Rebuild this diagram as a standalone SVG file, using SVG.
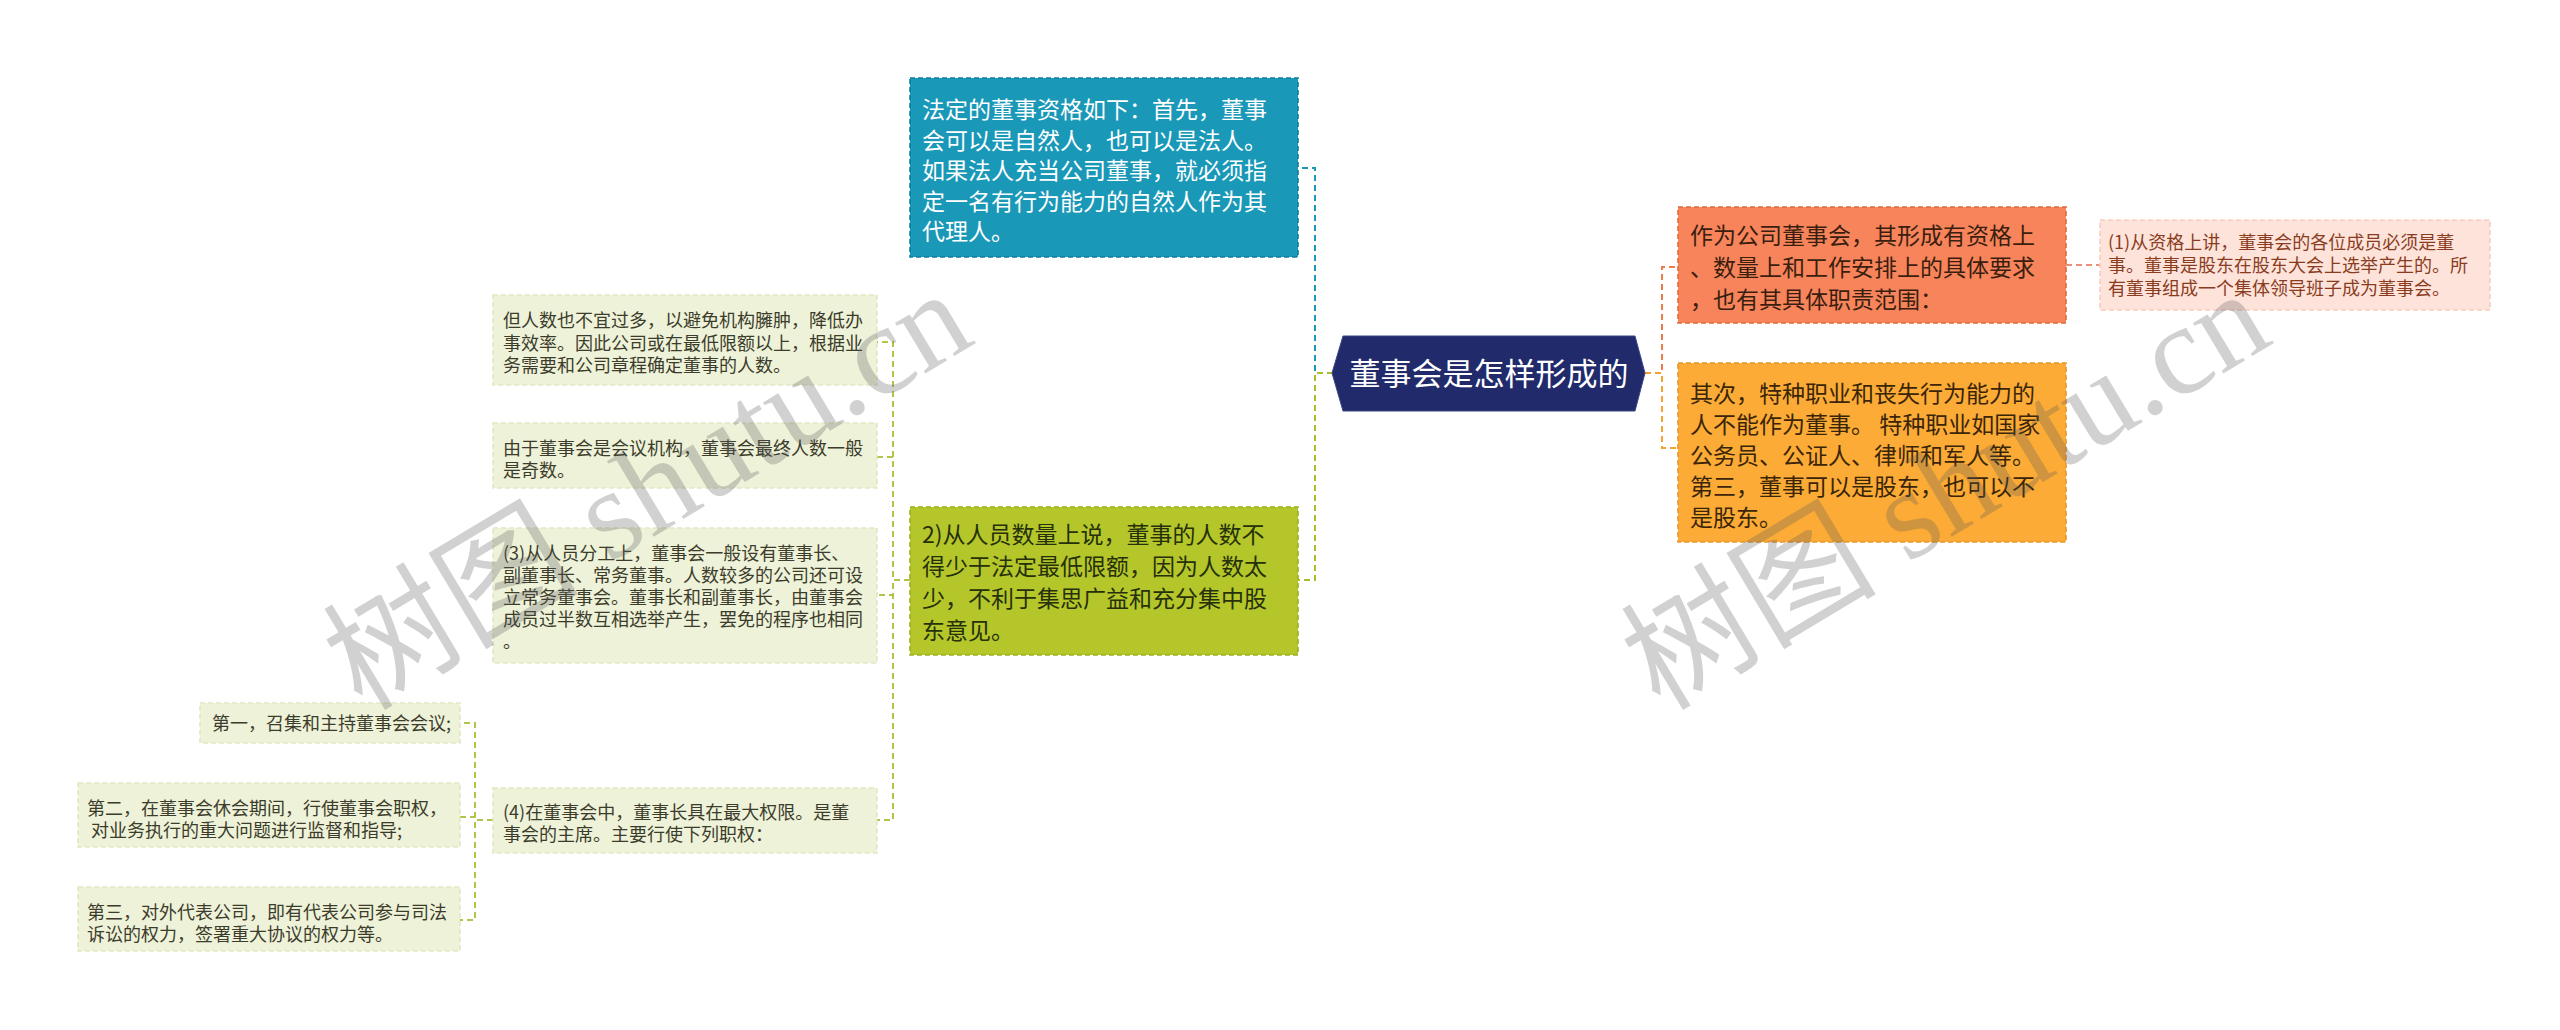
<svg xmlns="http://www.w3.org/2000/svg" width="2560" height="1030" viewBox="0 0 2560 1030">
<style>
text{font-family:"Noto Sans CJK SC","Noto Sans",sans-serif;}
.conn{fill:none;stroke-width:2;stroke-dasharray:6 4;}
.box{stroke-width:1.6;stroke-dasharray:5 3;}
.t23{font-size:23px;}
.t18{font-size:18px;}
.wm{font-family:"Liberation Serif","Noto Sans CJK SC",serif;font-size:128px;fill:#5a5a5a;fill-opacity:0.28;}
</style>
<rect width="2560" height="1030" fill="#ffffff"/>
<g id="connectors">
<path class="conn" stroke="#1a98b8" d="M1333,373 H1315 V168 H1298"/>
<path class="conn" stroke="#a8bf2a" d="M1333,373 H1315 V580 H1298"/>
<path class="conn" stroke="#f07a4c" d="M1645,373 H1662 V267 H1678"/>
<path class="conn" stroke="#f5a32e" d="M1645,373 H1662 V448 H1678"/>
<path class="conn" stroke="#e8907a" d="M2066,265 H2100"/>
<path class="conn" stroke="#b3c44a" d="M910,580 H893 V342 H877"/>
<path class="conn" stroke="#b3c44a" d="M910,580 H893 V457 H877"/>
<path class="conn" stroke="#b3c44a" d="M910,580 H893 V595 H877"/>
<path class="conn" stroke="#b3c44a" d="M910,580 H893 V820 H877"/>
<path class="conn" stroke="#b3c44a" d="M493,820 H475 V723 H460"/>
<path class="conn" stroke="#b3c44a" d="M493,820 H475 V817 H460"/>
<path class="conn" stroke="#b3c44a" d="M493,820 H475 V920 H460"/>
</g>
<g id="root">
<polygon points="1332,373 1343,336 1635,336 1645,373 1635,411 1343,411" fill="#212b6b" stroke="#3b4687" stroke-width="1"/>
<text x="1489" y="385" font-size="31" fill="#ffffff" text-anchor="middle">董事会是怎样形成的</text>
</g>
<g id="n-blue">
<rect class="box" x="910" y="78" width="388" height="179" fill="#1a98b8" stroke="#0f7f9c"/>
<text class="t23" fill="#ffffff"><tspan x="922" y="118">法定的董事资格如下：首先，董事</tspan><tspan x="922" y="148.5">会可以是自然人，也可以是法人。</tspan><tspan x="922" y="179">如果法人充当公司董事，就必须指</tspan><tspan x="922" y="209.5">定一名有行为能力的自然人作为其</tspan><tspan x="922" y="240">代理人。</tspan></text>
</g>
<g id="n-green">
<rect class="box" x="910" y="507" width="388" height="148" fill="#b4c62a" stroke="#9db01e"/>
<text class="t23" fill="#26300a"><tspan x="922" y="543">2)从人员数量上说，董事的人数不</tspan><tspan x="922" y="575">得少于法定最低限额，因为人数太</tspan><tspan x="922" y="607">少，不利于集思广益和充分集中股</tspan><tspan x="922" y="639">东意见。</tspan></text>
</g>
<g id="n-orange">
<rect class="box" x="1678" y="207" width="388" height="116" fill="#f7845a" stroke="#e06a3e"/>
<text class="t23" fill="#3a1e10"><tspan x="1690" y="244">作为公司董事会，其形成有资格上</tspan><tspan x="1690" y="276">、数量上和工作安排上的具体要求</tspan><tspan x="1690" y="308">，也有其具体职责范围：</tspan></text>
</g>
<g id="n-pink">
<rect class="box" x="2100" y="220" width="390" height="90" fill="#fde3da" stroke="#f6cdbf"/>
<text class="t18" fill="#8b3c1e"><tspan x="2108" y="249">(1)从资格上讲，董事会的各位成员必须是董</tspan><tspan x="2108" y="272">事。董事是股东在股东大会上选举产生的。所</tspan><tspan x="2108" y="295">有董事组成一个集体领导班子成为董事会。</tspan></text>
</g>
<g id="n-yellow">
<rect class="box" x="1678" y="363" width="388" height="179" fill="#fbab36" stroke="#e8962a"/>
<text class="t23" fill="#3a2508"><tspan x="1690" y="402">其次，特种职业和丧失行为能力的</tspan><tspan x="1690" y="433">人不能作为董事。 特种职业如国家</tspan><tspan x="1690" y="464">公务员、公证人、律师和军人等。</tspan><tspan x="1690" y="495">第三，董事可以是股东，也可以不</tspan><tspan x="1690" y="526">是股东。</tspan></text>
</g>
<g id="n-a">
<rect class="box" x="493" y="295" width="384" height="90" fill="#eef2d8" stroke="#e2e8c4"/>
<text class="t18" fill="#3c3c2c"><tspan x="503" y="327">但人数也不宜过多，以避免机构臃肿，降低办</tspan><tspan x="503" y="349.5">事效率。因此公司或在最低限额以上，根据业</tspan><tspan x="503" y="372">务需要和公司章程确定董事的人数。</tspan></text>
</g>
<g id="n-b">
<rect class="box" x="493" y="423" width="384" height="65" fill="#eef2d8" stroke="#e2e8c4"/>
<text class="t18" fill="#3c3c2c"><tspan x="503" y="455">由于董事会是会议机构，董事会最终人数一般</tspan><tspan x="503" y="477">是奇数。</tspan></text>
</g>
<g id="n-c">
<rect class="box" x="493" y="528" width="384" height="135" fill="#eef2d8" stroke="#e2e8c4"/>
<text class="t18" fill="#3c3c2c"><tspan x="503" y="560">(3)从人员分工上，董事会一般设有董事长、</tspan><tspan x="503" y="582">副董事长、常务董事。人数较多的公司还可设</tspan><tspan x="503" y="604">立常务董事会。董事长和副董事长，由董事会</tspan><tspan x="503" y="626">成员过半数互相选举产生，罢免的程序也相同</tspan><tspan x="503" y="648">。</tspan></text>
</g>
<g id="n-d">
<rect class="box" x="493" y="788" width="384" height="65" fill="#eef2d8" stroke="#e2e8c4"/>
<text class="t18" fill="#3c3c2c"><tspan x="503" y="819">(4)在董事会中，董事长具在最大权限。是董</tspan><tspan x="503" y="841">事会的主席。主要行使下列职权：</tspan></text>
</g>
<g id="n-e1">
<rect class="box" x="200" y="703" width="260" height="40" fill="#eef2d8" stroke="#e2e8c4"/>
<text class="t18" fill="#3c3c2c" x="212" y="730">第一，召集和主持董事会会议;</text>
</g>
<g id="n-e2">
<rect class="box" x="78" y="783" width="382" height="64" fill="#eef2d8" stroke="#e2e8c4"/>
<text class="t18" fill="#3c3c2c" xml:space="preserve"><tspan x="87" y="815">第二，在董事会休会期间，行使董事会职权，</tspan><tspan x="87" y="837"> 对业务执行的重大问题进行监督和指导;</tspan></text>
</g>
<g id="n-e3">
<rect class="box" x="78" y="887" width="382" height="64" fill="#eef2d8" stroke="#e2e8c4"/>
<text class="t18" fill="#3c3c2c"><tspan x="87" y="919">第三，对外代表公司，即有代表公司参与司法</tspan><tspan x="87" y="941">诉讼的权力，签署重大协议的权力等。</tspan></text>
</g>
<g id="watermarks">
<text class="wm" transform="translate(362,712) rotate(-31)">树图 shutu.cn</text>
<text class="wm" transform="translate(1660,712) rotate(-31)">树图 shutu.cn</text>
</g>
</svg>
